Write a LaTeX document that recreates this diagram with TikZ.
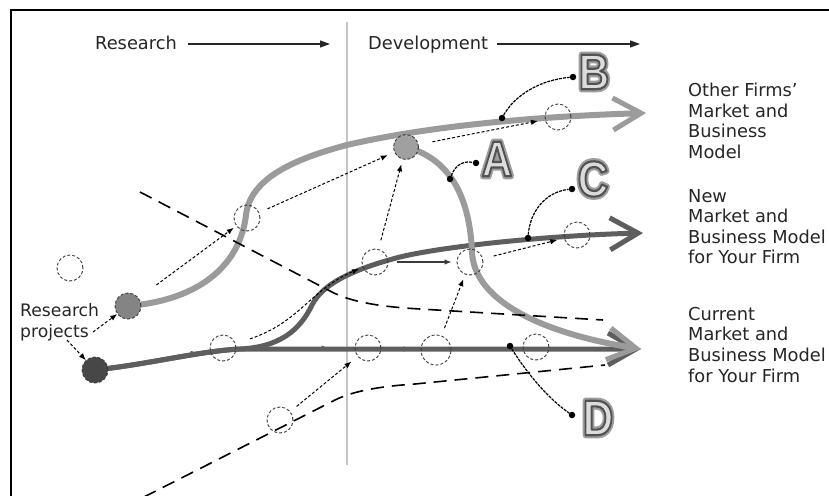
\documentclass[tikz,border=0pt]{standalone}
\usepackage{fontspec}
\usepackage{graphicx}
\setmainfont{DejaVu Sans}
\newfontfamily\letterfont{Liberation Sans}
\usetikzlibrary{arrows.meta,backgrounds}
\definecolor{graycurve}{HTML}{9B9B9B}
\definecolor{darkcurve}{HTML}{5E5E5E}
\definecolor{txt}{HTML}{262626}
\definecolor{sepline}{HTML}{C4C4C4}
\definecolor{circline}{HTML}{3A3A3A}
\definecolor{letfill}{HTML}{DCDCDC}
% hollow-looking letter: gray halo, dark outline, light gray body
\newcommand{\strokedletter}[1]{%
  \special{pdf:literal direct 1 Tr 1 j 6.5 w 0.62 0.62 0.62 RG}\rlap{#1}%
  \special{pdf:literal direct 2 Tr 2.2 w 0.32 0.32 0.32 RG}#1%
  \special{pdf:literal direct 0 Tr}}
\begin{document}
\begin{tikzpicture}[x=1pt,y=-1pt,
  lbl/.style={font=\fontsize{17.8}{20.7}\selectfont, text=txt, inner sep=0, anchor=base west},
  lblsmall/.style={font=\fontsize{17.2}{20}\selectfont, text=txt, inner sep=0, anchor=base west},
  bigletter/.style={font=\letterfont\bfseries\fontsize{50}{50}\selectfont, text=letfill, inner sep=0, anchor=center},
  toparr/.style={line width=1.2pt, draw=txt, -{Triangle[length=10pt,width=7pt]}},
  sepstyle/.style={line width=1.5pt, draw=sepline},
  thickgray/.style={line width=6pt, draw=graycurve, line cap=round},
  thickdark/.style={line width=5pt, draw=darkcurve, line cap=round},
  bigarrgray/.style={-{Straight Barb[length=28pt,width=32pt,line width=5pt]}},
  bigarrdark/.style={-{Straight Barb[length=28pt,width=32pt,line width=5pt]}},
  dcirc/.style={circle, draw=circline, line width=0.9pt, dash pattern=on 3pt off 2pt, minimum size=26pt, inner sep=0},
  fcirc/.style={circle, draw=circline, line width=0.9pt, dash pattern=on 3pt off 2pt, minimum size=26pt, inner sep=0},
  dotarr/.style={draw=black, line width=1pt, dash pattern=on 3pt off 2pt, -{Latex[length=7pt,width=5.5pt]}},
  thinarr/.style={draw=circline, line width=1.1pt, -{Latex[length=7pt,width=5.5pt]}},
  linearr/.style={draw=darkcurve, line width=1pt, -{Latex[length=7pt,width=5.5pt]}},
  longdash/.style={draw=black, line width=1.6pt, dash pattern=on 13pt off 8pt},
  conn/.style={draw=black, line width=1.2pt, dash pattern=on 3pt off 1pt},
  bdot/.style={circle, fill=black, minimum size=6.5pt, inner sep=0}
]
\useasboundingbox (0,0) rectangle (829,495);

% ---- labels at the top ----
\node[lbl] (research) at (95,50) {Research};
\node[lbl] (develop) at (368,50) {Development};
\coordinate (ra1) at (188,44);
\coordinate (ra2) at (330,44);
\coordinate (da1) at (497,44);
\coordinate (da2) at (640,44);
\draw[toparr] (ra1) -- (ra2);
\draw[toparr] (da1) -- (da2);

% ---- right labels ----
\node[lbl] (o1) at (688,96) {Other Firms'};
\node[lbl] (o2) at (688,117) {Market and};
\node[lbl] (o3) at (688,137.5) {Business};
\node[lbl] (o4) at (688,158) {Model};
\node[lbl] (n1) at (688,202) {New};
\node[lbl] (n2) at (688,222.5) {Market and};
\node[lbl] (n3) at (688,243) {Business Model};
\node[lbl] (n4) at (688,263.5) {for Your Firm};
\node[lbl] (k1) at (688,320) {Current};
\node[lbl] (k2) at (688,340.7) {Market and};
\node[lbl] (k3) at (688,361.4) {Business Model};
\node[lbl] (k4) at (688,382) {for Your Firm};

% ---- research projects label ----
\node[lblsmall] (rp1) at (20,316) {Research};
\node[lblsmall] (rp2) at (20,337) {projects};
\coordinate (rpa) at (93,332);
\coordinate (rpb) at (67,340);

% ---- circles ----
\node[dcirc] (c1) at (70,268) {};
\node[dcirc] (c2) at (247,218) {};
\node[dcirc] (c3) at (375,262) {};
\node[dcirc] (c4) at (470,262) {};
\node[dcirc] (c5) at (223,348) {};
\node[dcirc] (c6) at (368,348) {};
\node[dcirc, minimum size=30pt] (c7) at (436,350) {};
\node[dcirc] (c8) at (536,347) {};
\node[dcirc] (c9) at (280,420) {};
\node[dcirc] (c10) at (558,117) {};
\node[dcirc] (c11) at (577,235) {};
\node[fcirc, fill=graycurve!85!black] (p1) at (128,306) {};
\node[fcirc, fill=black!72] (p2) at (95,370) {};
\node[fcirc, fill=graycurve!95!white, minimum size=25pt] (pa) at (406,147) {};

% ---- arrow end points ----
\coordinate (t1) at (646,113);
\coordinate (t2) at (643,233);
\coordinate (t3) at (641,349);

% ---- background: frame, separator, thick curves ----
\begin{scope}[on background layer]
  \fill[white] (0,0) rectangle (829,495);
  \draw[line width=1.6pt, black] (11,496) -- (11,10) -- (830,10);
  \coordinate (s1) at (347,22);
  \coordinate (s2) at (347,465);
  \draw[sepstyle] (s1) -- (s2);
  % current (bottom) dark line
  \draw[thickdark, bigarrdark] (p2.center) .. controls (150,364) and (200,351) .. (240,349) -- (t3);
  % new (middle) dark curve
  \draw[thickdark, bigarrdark] (p2.center) .. controls (150,364) and (200,351) .. (240,349)
     .. controls (280,347) and (300,330) .. (312,305)
     .. controls (322,285) and (350,270) .. (400,257)
     .. controls (450,245) and (560,235) .. (t2);
  % other firms (top) gray curve
  \draw[thickgray, bigarrgray] (p1.center) .. controls (200,300) and (240,265) .. (246,215)
     .. controls (250,180) and (290,160) .. (347,145)
     .. controls (420,128) and (520,117) .. (t1);
  % gray branch down to current
  \draw[thickgray, bigarrgray] (pa.center) .. controls (455,160) and (470,205) .. (472,252)
     .. controls (474,300) and (540,333) .. (t3);
\end{scope}

% ---- long dashed lines ----
\coordinate (u1) at (140,192);
\coordinate (u2) at (603,320);
\draw[longdash] (u1) -- (330,291) .. controls (352,303) and (385,307) .. (420,309) -- (u2);
\coordinate (l1) at (144,497);
\coordinate (l2) at (605,365);
\draw[longdash] (l1) -- (335,400) .. controls (355,390) and (385,386) .. (415,384) -- (l2);

% ---- dotted arrows ----
\draw[dotarr] (rpa) -- (p1);
\draw[dotarr] (rpb) -- (p2);
\draw[dotarr, shorten <=22pt, shorten >=3pt] (p1) -- (c2);
\draw[dotarr, shorten <=9pt, shorten >=7pt] (c2) -- (pa);
\draw[dotarr, shorten <=9pt, shorten >=5pt] (c3) -- (pa);
\draw[dotarr, shorten <=14pt, shorten >=7pt] (pa) -- (c10);
\draw[thinarr, shorten <=9pt, shorten >=5pt] (c3) -- (c4);
\draw[dotarr, shorten <=11pt, shorten >=7pt] (c4) -- (c11);
\draw[dotarr, shorten <=8pt, shorten >=5pt] (c7) -- (c4);
\draw[dotarr, shorten <=15pt, shorten >=4pt] (c5) .. controls (300,322) and (310,290) .. (c3);
\draw[dotarr, shorten <=8pt, shorten >=8pt] (c9) -- (c6);
\draw[linearr, shorten <=14pt, shorten >=12pt] (p2) -- (c5);
\draw[linearr, shorten <=5pt, shorten >=26pt] (c5) -- (c6);
\draw[linearr, shorten <=5pt, shorten >=10pt] (c6) -- (c7);

% ---- letter connectors ----
\node[bdot] (bB1) at (502,118) {};
\node[bdot] (bB2) at (573,77) {};
\draw[conn] (bB1) .. controls (515,95) and (540,80) .. (bB2);
\node[bdot] (bA1) at (450,179) {};
\node[bdot] (bA2) at (476,163) {};
\draw[conn] (bA1) .. controls (454,168) and (461,160) .. (bA2);
\node[bdot] (bC1) at (528,238) {};
\node[bdot] (bC2) at (572,189) {};
\draw[conn] (bC1) .. controls (530,212) and (545,192) .. (bC2);
\node[bdot] (bD1) at (510,346) {};
\node[bdot] (bD2) at (572,415) {};
\draw[conn] (bD1) .. controls (528,375) and (550,400) .. (bD2);

% ---- big hollow letters ----
\node[bigletter] (letterB) at (594,72) {\scalebox{0.85}[1]{\strokedletter{B}}};
\node[bigletter] (letterA) at (497,159) {\scalebox{0.85}[1]{\strokedletter{A}}};
\node[bigletter] (letterC) at (593,179) {\scalebox{0.85}[1]{\strokedletter{C}}};
\node[bigletter] (letterD) at (598,418) {\scalebox{0.85}[1]{\strokedletter{D}}};
\end{tikzpicture}
\end{document}
